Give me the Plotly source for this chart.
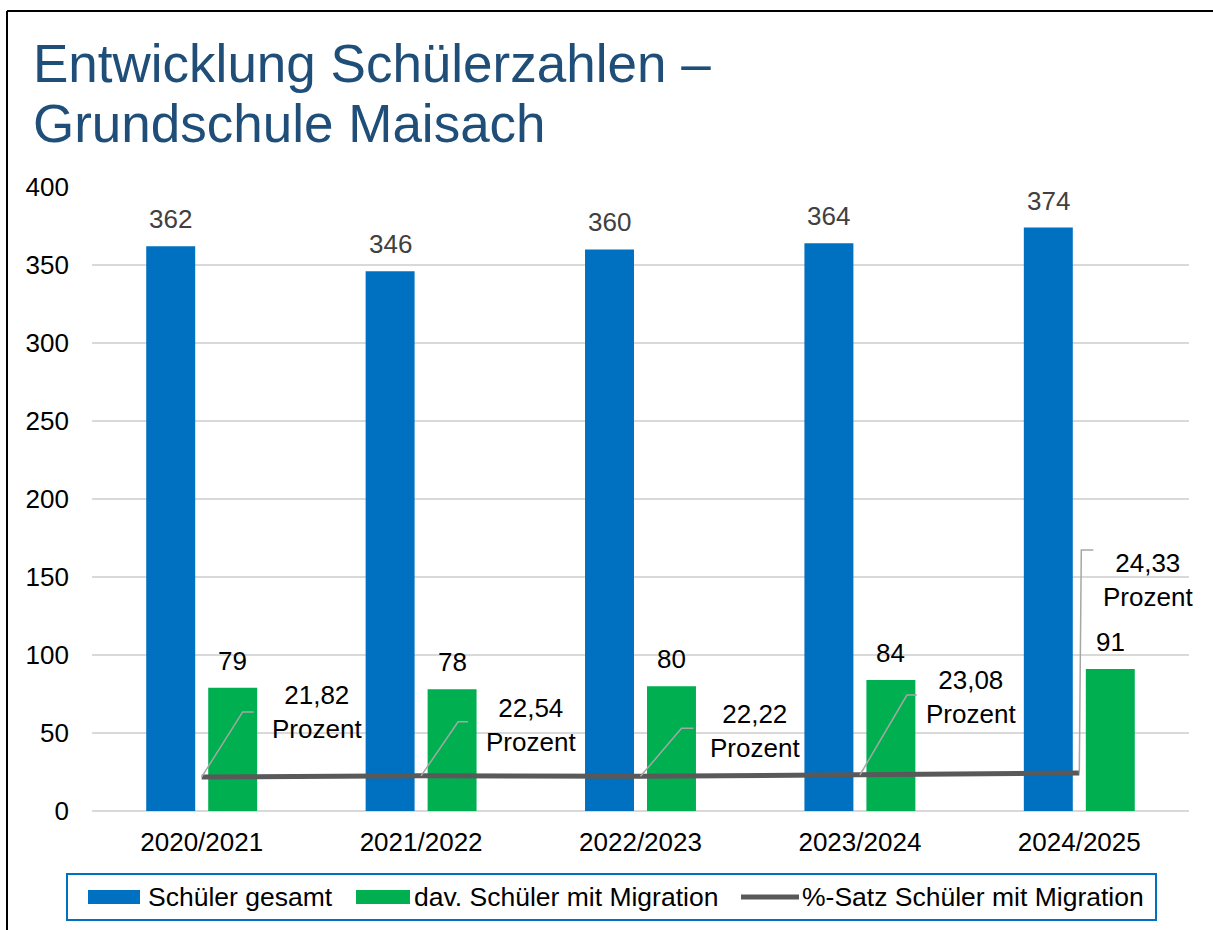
import plotly.graph_objects as go

# ---- data ----
categories = ["2020/2021", "2021/2022", "2022/2023", "2023/2024", "2024/2025"]
schueler_gesamt = [362, 346, 360, 364, 374]
schueler_migration = [79, 78, 80, 84, 91]
prozent_migration = [21.82, 22.54, 22.22, 23.08, 24.33]
y_ticks = [0, 50, 100, 150, 200, 250, 300, 350, 400]

series_names = ["Schüler gesamt", "dav. Schüler mit Migration", "%-Satz Schüler mit Migration"]
title_lines = ["Entwicklung Schülerzahlen –", "Grundschule Maisach"]

# ---- style ----
FONT = "Liberation Sans, Arial, sans-serif"
BLUE = "#0070C0"
GREEN = "#00B050"
LINE = "#595959"
GRID = "#D9D9D9"
TITLE_C = "#1F4E79"
FS = 26
W, H = 1213, 930
ML, MR, MT, MB = 92, 24, 187, 119
PW, PH = W - ML - MR, H - MT - MB


def px(x):
    return (x - ML) / PW


def py(y):
    return (H - MB - y) / PH


# label offsets (pixels, relative to line point) and leader paths
label_off = [(115, 65), (110, 51), (114, 45), (111, 78), (69, 193)]
leader_off = [((41, 65), (52, 65)), ((37, 54), (47, 54)), ((41, 48), (53, 48)),
              ((47, 80), (57, 80)), ((2, 223), (14, 223))]

fig = go.Figure()
fig.add_trace(go.Bar(x=categories, y=schueler_gesamt, name=series_names[0],
                     marker=dict(color=BLUE, line=dict(width=0))))
fig.add_trace(go.Bar(x=categories, y=schueler_migration, name=series_names[1],
                     marker=dict(color=GREEN, line=dict(width=0))))
fig.add_trace(go.Scatter(x=categories, y=prozent_migration, name=series_names[2],
                         mode="lines", line=dict(color=LINE, width=5)))

annotations = []
shapes = []

# value labels
for c, v in zip(categories, schueler_gesamt):
    annotations.append(dict(x=c, y=v, xref="x", yref="y", text=str(v), showarrow=False,
                            xshift=-31, yshift=27, yanchor="middle",
                            font=dict(family=FONT, size=FS, color="#404040")))
for c, v in zip(categories, schueler_migration):
    annotations.append(dict(x=c, y=v, xref="x", yref="y", text=str(v), showarrow=False,
                            xshift=31, yshift=27, yanchor="middle",
                            font=dict(family=FONT, size=FS, color="#000000")))

# percent labels + leader lines
for c, p, (dx, dy), ((ax1, ay1), (ax2, ay2)) in zip(categories, prozent_migration, label_off, leader_off):
    txt = f"{p:.2f}".replace(".", ",") + "<br>Prozent"
    annotations.append(dict(x=c, y=p, xref="x", yref="y", text=txt, showarrow=False,
                            xshift=dx, yshift=dy, yanchor="middle", xanchor="center",
                            font=dict(family=FONT, size=FS, color="#000000")))
    shapes.append(dict(type="path", xref="x", yref="y", xsizemode="pixel", ysizemode="pixel",
                       xanchor=c, yanchor=p,
                       path=f"M0,0 L{ax1},{ay1} L{ax2},{ay2}",
                       line=dict(color="#A6A6A6", width=1.5), layer="above"))

# title
annotations.append(dict(x=px(31), y=py(63), xref="paper", yref="paper", text=title_lines[0],
                        showarrow=False, xanchor="left", yanchor="middle",
                        font=dict(family=FONT, size=53, color=TITLE_C)))
annotations.append(dict(x=px(31), y=py(124), xref="paper", yref="paper", text=title_lines[1],
                        showarrow=False, xanchor="left", yanchor="middle",
                        font=dict(family=FONT, size=53, color=TITLE_C)))

# outer border (left + top)
shapes.append(dict(type="line", xref="paper", yref="paper", x0=px(7), x1=px(7), y0=py(H + 20), y1=py(11),
                   line=dict(color="#000000", width=2)))
shapes.append(dict(type="line", xref="paper", yref="paper", x0=px(7), x1=px(W + 20), y0=py(11), y1=py(11),
                   line=dict(color="#000000", width=2)))

# manual legend
shapes.append(dict(type="rect", xref="paper", yref="paper", x0=px(67), x1=px(1156), y0=py(920), y1=py(874),
                   line=dict(color=BLUE, width=2), fillcolor="rgba(0,0,0,0)"))
shapes.append(dict(type="rect", xref="paper", yref="paper", x0=px(88), x1=px(140), y0=py(904), y1=py(890),
                   line=dict(width=0), fillcolor=BLUE))
shapes.append(dict(type="rect", xref="paper", yref="paper", x0=px(356), x1=px(410), y0=py(904), y1=py(890),
                   line=dict(width=0), fillcolor=GREEN))
shapes.append(dict(type="line", xref="paper", yref="paper", x0=px(741), x1=px(799), y0=py(897), y1=py(897),
                   line=dict(color=LINE, width=5)))
for xpos, name in zip([146, 412, 800], series_names):
    annotations.append(dict(x=px(xpos), y=py(897), xref="paper", yref="paper", text=name,
                            showarrow=False, xanchor="left", yanchor="middle",
                            font=dict(family=FONT, size=26.5, color="#000000")))

fig.update_layout(
    width=W, height=H,
    margin=dict(l=ML, r=MR, t=MT, b=MB, pad=0),
    paper_bgcolor="white", plot_bgcolor="white",
    barmode="group", bargap=0.435, bargroupgap=0.21,
    showlegend=False,
    font=dict(family=FONT, size=FS, color="#000000"),
    annotations=annotations, shapes=shapes,
)
fig.update_yaxes(range=[0, 400], autorange=False, tickvals=y_ticks, showgrid=True, gridcolor=GRID,
                 gridwidth=1.5, zeroline=True, zerolinecolor=GRID, zerolinewidth=1.5, showline=False,
                 ticks="", ticklabelstandoff=22, tickfont=dict(family=FONT, size=FS, color="#000000"))
fig.update_xaxes(range=[-0.5, len(categories) - 0.5], autorange=False, showgrid=False, showline=False,
                 ticks="", ticklabelstandoff=13, tickfont=dict(family=FONT, size=FS, color="#000000"))

fig.write_html("out.html", config={"displayModeBar": False},
               post_script="document.body.style.margin='0';document.body.style.overflow='hidden';")
